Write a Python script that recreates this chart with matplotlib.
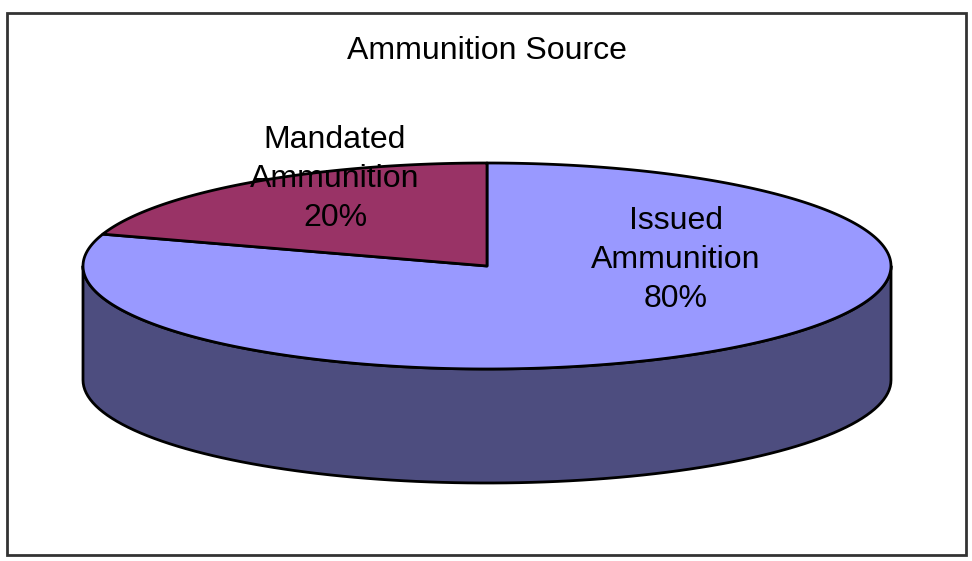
import numpy as np
import matplotlib.pyplot as plt
from matplotlib.patches import Polygon, Rectangle

plt.rcParams['font.family'] = ['Liberation Sans', 'DejaVu Sans']

# data
labels = ['Issued\nAmmunition', 'Mandated\nAmmunition']
values = [80, 20]
top_colors = ['#9999FF', '#993366']
side_colors = ['#4D4D7F', '#4D1A33']
label_pos = [(676, 260), (335, 179)]
title = 'Ammunition Source'

# pie geometry in pixel coords
cx, cy = 487, 266
a, b = 404, 103
depth = 114

fig = plt.figure(figsize=(9.72, 5.61), dpi=100)
ax = fig.add_axes([0, 0, 1, 1])
ax.set_xlim(0, 972)
ax.set_ylim(561, 0)
ax.axis('off')

ax.add_patch(Rectangle((7, 13), 959, 542, fill=False, edgecolor='#333333', lw=2))


def pt(deg):
    t = np.radians(deg)
    return cx + a * np.cos(t), cy - b * np.sin(t)


# wedge angles: start at top, going clockwise
total = sum(values)
angles = []
start = 90
for v in values:
    end = start - 360 * v / total
    angles.append((end, start))
    start = end

# side walls (visible front half: 180..360 degrees)
for (lo, hi), col in zip(angles, side_colors):
    for k in range(-1, 2):
        s = max(lo + 360 * k, 180)
        e = min(hi + 360 * k, 360)
        if e <= s:
            continue
        t = np.linspace(s, e, 100)
        xs, ys = pt(t)
        poly = np.concatenate([np.column_stack([xs, ys]),
                               np.column_stack([xs[::-1], ys[::-1] + depth])])
        ax.add_patch(Polygon(poly, closed=True, facecolor=col, edgecolor='black', lw=2, joinstyle='round'))

# top faces
for (lo, hi), col in zip(angles, top_colors):
    t = np.linspace(lo, hi, 300)
    xs, ys = pt(t)
    poly = np.vstack([[cx, cy], np.column_stack([xs, ys])])
    ax.add_patch(Polygon(poly, closed=True, facecolor=col, edgecolor='black', lw=2, joinstyle='round'))

for lab, v, (x, y) in zip(labels, values, label_pos):
    ax.text(x, y, f'{lab}\n{v}%', ha='center', va='center', fontsize=23,
            linespacing=1.37, color='black')

ax.text(487, 51, title, ha='center', va='center', fontsize=23, color='black')

fig.savefig('out.png', dpi=100)
